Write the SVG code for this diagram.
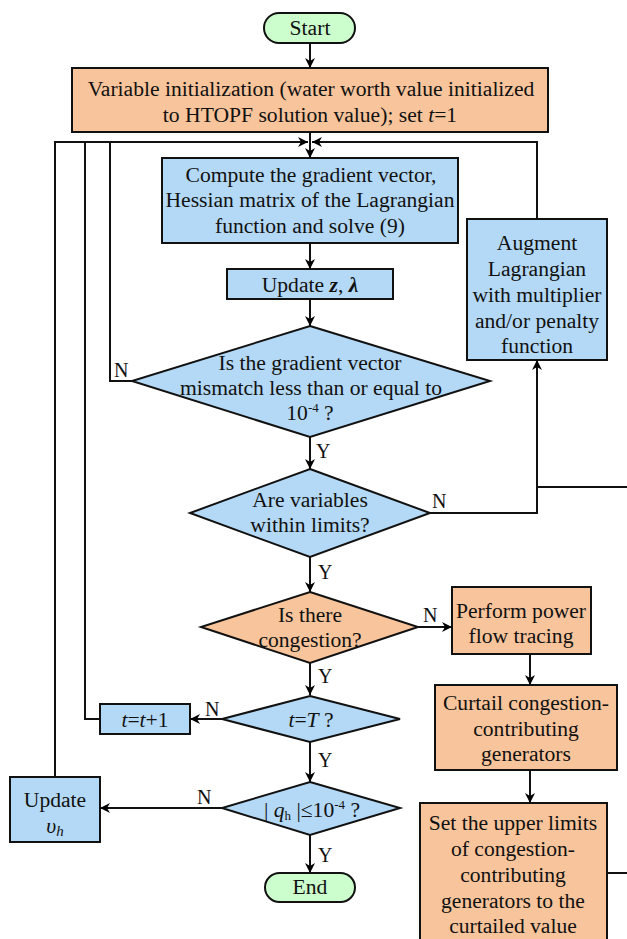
<svg xmlns="http://www.w3.org/2000/svg" width="627" height="939" viewBox="0 0 627 939">
<defs>
<marker id="ah" viewBox="0 0 10 10" refX="10" refY="5" markerWidth="10" markerHeight="10" markerUnits="userSpaceOnUse" orient="auto">
<path d="M0,0 L10,5 L0,10 L3,5 Z" fill="#000"/>
</marker>
<style>
text{font-family:"Liberation Serif","Times New Roman",serif;font-size:21.6px;fill:#111;text-anchor:middle}
.lbl{font-size:20px;text-anchor:start}
.blue{fill:#b4d9f6;stroke:#111;stroke-width:2}
.orange{fill:#f8c49b;stroke:#111;stroke-width:2}
.green{fill:#ccfdcc;stroke:#111;stroke-width:2}
.c{fill:none;stroke:#111;stroke-width:2}
.a{fill:none;stroke:#111;stroke-width:2;marker-end:url(#ah)}
.i{font-style:italic}
.bi{font-style:italic;font-weight:bold}
.sup{font-size:13px}
</style>
</defs>
<rect width="627" height="939" fill="#fff"/>

<g id="connectors">
<line class="a" x1="310" y1="43" x2="310" y2="68"/>
<line class="a" x1="310" y1="132" x2="310" y2="158"/>
<polyline class="a" points="55,777 55,142 308,142"/>
<polyline class="c" points="100,719 85,719 85,142"/>
<polyline class="c" points="132,381 110,381 110,142"/>
<polyline class="a" points="537,219 537,142 312,142"/>
<line class="a" x1="310" y1="243" x2="310" y2="269"/>
<line class="a" x1="310" y1="299" x2="310" y2="326"/>
<line class="a" x1="310" y1="437" x2="310" y2="469"/>
<polyline class="a" points="430,513 537,513 537,360"/>
<polyline class="c" points="627,487 537,487"/>
<line class="a" x1="310" y1="557" x2="310" y2="592"/>
<line class="a" x1="418" y1="627" x2="452" y2="627"/>
<line class="a" x1="530" y1="654" x2="530" y2="685"/>
<line class="a" x1="530" y1="770" x2="530" y2="803"/>
<line class="c" x1="607" y1="873" x2="627" y2="873"/>
<line class="a" x1="310" y1="663" x2="310" y2="695"/>
<line class="a" x1="222" y1="719" x2="190" y2="719"/>
<line class="a" x1="310" y1="742" x2="310" y2="782"/>
<line class="a" x1="222" y1="808" x2="100" y2="808"/>
<line class="a" x1="310" y1="835" x2="310" y2="873"/>
<text class="lbl" x="114" y="377">N</text>
<text class="lbl" x="316" y="458">Y</text>
<text class="lbl" x="432" y="508">N</text>
<text class="lbl" x="318" y="579">Y</text>
<text class="lbl" x="423" y="622">N</text>
<text class="lbl" x="318" y="683">Y</text>
<text class="lbl" x="205" y="716">N</text>
<text class="lbl" x="318" y="767">Y</text>
<text class="lbl" x="197" y="804">N</text>
<text class="lbl" x="318" y="862">Y</text>
</g>

<g id="start">
<rect class="green" x="264" y="13" width="91" height="30" rx="15"/>
<text x="310" y="35">Start</text>
</g>

<g id="init">
<rect class="orange" x="72" y="68" width="476" height="64"/>
<text x="311" y="96">Variable initialization (water worth value initialized</text>
<text x="310" y="122">to HTOPF solution value); set <tspan class="i">t</tspan>=1</text>
</g>

<g id="compute">
<rect class="blue" x="162" y="158" width="296" height="85"/>
<text x="311" y="182">Compute the gradient vector,</text>
<text x="310" y="207">Hessian matrix of the Lagrangian</text>
<text x="310" y="233">function and solve (9)</text>
</g>

<g id="update-zl">
<rect class="blue" x="227" y="269" width="166" height="30"/>
<text x="310" y="292">Update <tspan class="bi">z</tspan>, <tspan class="bi">λ</tspan></text>
</g>

<g id="d-gradient">
<polygon class="blue" points="310,326 490,381 310,437 132,381"/>
<text x="310" y="370">Is the gradient vector</text>
<text x="311" y="395">mismatch less than or equal to</text>
<text x="310" y="420">10<tspan class="sup" dy="-8">-4</tspan><tspan dy="8"> ?</tspan></text>
</g>

<g id="augment">
<rect class="blue" x="467" y="219" width="140" height="141"/>
<text x="537" y="250">Augment</text>
<text x="537" y="276">Lagrangian</text>
<text x="537" y="302">with multiplier</text>
<text x="537" y="328">and/or penalty</text>
<text x="537" y="353">function</text>
</g>

<g id="d-limits">
<polygon class="blue" points="310,469 430,513 310,557 190,513"/>
<text x="310" y="507">Are variables</text>
<text x="310" y="532">within limits?</text>
</g>

<g id="d-congestion">
<polygon class="orange" points="310,592 418,627 310,663 201,627"/>
<text x="310" y="622">Is there</text>
<text x="310" y="647">congestion?</text>
</g>

<g id="trace">
<rect class="orange" x="452" y="587" width="139" height="67"/>
<text x="521" y="618">Perform power</text>
<text x="521" y="643">flow tracing</text>
</g>

<g id="curtail">
<rect class="orange" x="435" y="685" width="182" height="85"/>
<text x="526" y="710">Curtail congestion-</text>
<text x="526" y="736">contributing</text>
<text x="526" y="761">generators</text>
</g>

<g id="setlimits">
<rect class="orange" x="420" y="803" width="187" height="145"/>
<text x="513" y="830">Set the upper limits</text>
<text x="513" y="856">of congestion-</text>
<text x="513" y="882">contributing</text>
<text x="513" y="908">generators to the</text>
<text x="513" y="933">curtailed value</text>
</g>

<g id="d-tT">
<polygon class="blue" points="310,696 400,719 310,742 222,719"/>
<text x="311" y="727"><tspan class="i">t</tspan>=<tspan class="i">T</tspan> ?</text>
</g>

<g id="tinc">
<rect class="blue" x="100" y="704" width="90" height="30"/>
<text x="145" y="727"><tspan class="i">t</tspan>=<tspan class="i">t</tspan>+1</text>
</g>

<g id="d-qh">
<polygon class="blue" points="310,782 400,808 310,835 222,808"/>
<text x="312" y="817">| <tspan class="i">q</tspan><tspan class="sup" dy="3">h</tspan><tspan dy="-3"> |≤10</tspan><tspan class="sup" dy="-8">-4</tspan><tspan dy="8"> ?</tspan></text>
</g>

<g id="update-vh">
<rect class="blue" x="10" y="777" width="90" height="65"/>
<text x="55" y="807">Update</text>
<text x="55" y="833"><tspan class="i">υ</tspan><tspan class="i" font-size="15" dy="3">h</tspan></text>
</g>

<g id="end">
<rect class="green" x="265" y="873" width="90" height="29" rx="14.5"/>
<text x="310" y="894">End</text>
</g>
</svg>
